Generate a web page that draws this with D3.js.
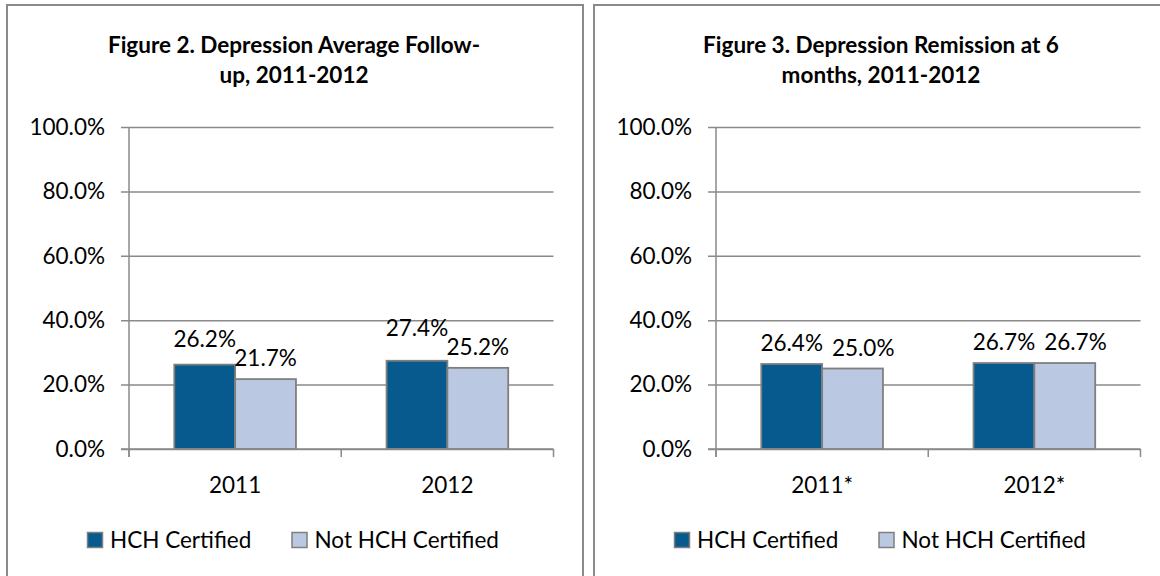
<!DOCTYPE html>
<html>
<head>
<meta charset="utf-8">
<script src="https://cdn.jsdelivr.net/npm/d3@7"></script>
<style>
  body { margin: 0; background: #fff; }
  svg { display: block; font-family: Lato, "Open Sans", sans-serif; }
</style>
</head>
<body>
<svg id="chart" width="1160" height="576"></svg>
<script>
// data
const seriesNames = ['HCH Certified', 'Not HCH Certified'];
const fig2Title = ['Figure 2. Depression Average Follow-', 'up, 2011-2012'];
const fig2Years = ['2011', '2012'];
const fig2Hch = [0.262, 0.274];
const fig2NotHch = [0.217, 0.252];
const fig3Title = ['Figure 3. Depression Remission at 6', 'months, 2011-2012'];
const fig3Years = ['2011*', '2012*'];
const fig3Hch = [0.264, 0.267];
const fig3NotHch = [0.250, 0.267];
const yTicks = [0, 0.2, 0.4, 0.6, 0.8, 1.0];

const colors = ['#065A8E', '#BAC8E1'];
const gridColor = '#8a8a8a';
const fontSize = 22.5;
const svg = d3.select('#chart');

const panelW = 576, panelH = 600;
const plot = {left: 122, right: 546.5, top: 127, bottom: 449};

// labelMode: how two colliding value labels get separated ('up' or 'side')
function drawPanel(offsetX, titleLines, years, hch, notHch, labelMode) {
  const g = svg.append('g').attr('transform', `translate(${offsetX},0)`);

  g.append('rect')
    .attr('x', 0).attr('y', 5)
    .attr('width', panelW).attr('height', panelH)
    .attr('fill', '#fff')
    .attr('stroke', gridColor)
    .attr('stroke-width', 2);

  // title
  g.append('text')
    .attr('text-anchor', 'middle')
    .attr('font-weight', 'bold')
    .attr('font-size', 22.5)
    .attr('fill', '#000')
    .selectAll('tspan').data(titleLines).enter().append('tspan')
    .attr('x', panelW / 2 - 1)
    .attr('y', (d, i) => 53 + i * 30)
    .text(d => d);

  const y = d3.scaleLinear().domain([0, 1]).range([plot.bottom, plot.top]);
  const x0 = d3.scaleBand().domain(years).range([plot.left, plot.right]).padding(0);
  const bw = x0.bandwidth();
  const x1 = d3.scaleBand().domain(seriesNames).range([bw * 0.2134, bw * 0.7866]).padding(0);

  // gridlines + y labels
  const yAxis = d3.axisLeft(y)
    .tickValues(yTicks)
    .tickFormat(d3.format('.1%'))
    .tickSize(-(plot.right - plot.left) - 8)
    .tickPadding(16);
  const ya = g.append('g')
    .attr('transform', `translate(${plot.left},0)`)
    .call(yAxis);
  ya.select('.domain').remove();
  ya.selectAll('.tick line')
    .attr('x1', -8)
    .attr('x2', plot.right - plot.left)
    .attr('stroke', gridColor)
    .attr('stroke-width', 1.5);
  ya.selectAll('.tick text')
    .attr('x', -24)
    .attr('font-size', fontSize)
    .attr('font-family', 'Lato, sans-serif')
    .attr('fill', '#000');

  // vertical axis line
  g.append('line')
    .attr('x1', plot.left).attr('x2', plot.left)
    .attr('y1', plot.top).attr('y2', plot.bottom + 8)
    .attr('stroke', gridColor).attr('stroke-width', 1.5);

  // bars
  const rows = years.map((yr, i) => ({year: yr, values: [hch[i], notHch[i]]}));
  const grp = g.selectAll('.cat').data(rows).enter().append('g')
    .attr('transform', d => `translate(${x0(d.year)},0)`);
  grp.selectAll('rect')
    .data(d => d.values.map((v, k) => ({name: seriesNames[k], v, k})))
    .enter().append('rect')
    .attr('x', d => x1(d.name))
    .attr('y', d => y(d.v))
    .attr('width', x1.bandwidth())
    .attr('height', d => y(0) - y(d.v))
    .attr('fill', d => colors[d.k])
    .attr('stroke', '#7f7f7f')
    .attr('stroke-width', 1.8);
  grp.each(function () {
    const labels = d3.select(this).selectAll('.val')
      .data(d => d.values.map((v, k) => ({name: seriesNames[k], v, k})))
      .enter().append('text')
      .attr('class', 'val')
      .attr('x', d => x1(d.name) + x1.bandwidth() / 2)
      .attr('y', d => y(d.v) - 13)
      .attr('text-anchor', 'middle')
      .attr('font-size', fontSize)
      .text(d => d3.format('.1%')(d.v));
    // keep the two labels apart
    const [a, b] = labels.nodes();
    const wa = a.getComputedTextLength(), wb = b.getComputedTextLength();
    const ax = +a.getAttribute('x'), bx = +b.getAttribute('x');
    const ay = +a.getAttribute('y'), by = +b.getAttribute('y');
    const need = ax + wa / 2 + 9 + wb / 2;
    if (bx >= need) return;
    if (labelMode === 'up') {
      if (ay <= by) a.setAttribute('y', Math.min(ay, by - 19));
      else b.setAttribute('y', Math.min(by, ay - 19));
    } else if (Math.abs(ay - by) < 12) {
      b.setAttribute('x', need);
    }
  });

  // x axis line and ticks
  g.append('line')
    .attr('x1', plot.left - 8).attr('x2', plot.right)
    .attr('y1', plot.bottom).attr('y2', plot.bottom)
    .attr('stroke', gridColor).attr('stroke-width', 1.5);
  const bounds = years.map(yr => x0(yr)).concat([plot.right]);
  g.selectAll('.xtick').data(bounds).enter().append('line')
    .attr('x1', d => d).attr('x2', d => d)
    .attr('y1', plot.bottom).attr('y2', plot.bottom + 8)
    .attr('stroke', gridColor).attr('stroke-width', 1.5);
  g.selectAll('.xlab').data(years).enter().append('text')
    .attr('x', d => x0(d) + bw / 2)
    .attr('y', 493)
    .attr('text-anchor', 'middle')
    .attr('font-size', fontSize)
    .text(d => d);

  // legend
  const legX = [80.5, 285];
  const leg = g.selectAll('.leg').data(seriesNames).enter().append('g')
    .attr('transform', (d, i) => `translate(${legX[i]},532.5)`);
  leg.append('rect')
    .attr('width', 15).attr('height', 15)
    .attr('fill', (d, i) => colors[i])
    .attr('stroke', '#7f7f7f').attr('stroke-width', 1.5);
  leg.append('text')
    .attr('x', 22.5).attr('y', 15.5)
    .attr('font-size', fontSize)
    .text(d => d);
}

drawPanel(7, fig2Title, fig2Years, fig2Hch, fig2NotHch, 'up');
drawPanel(594, fig3Title, fig3Years, fig3Hch, fig3NotHch, 'side');
</script>
</body>
</html>
